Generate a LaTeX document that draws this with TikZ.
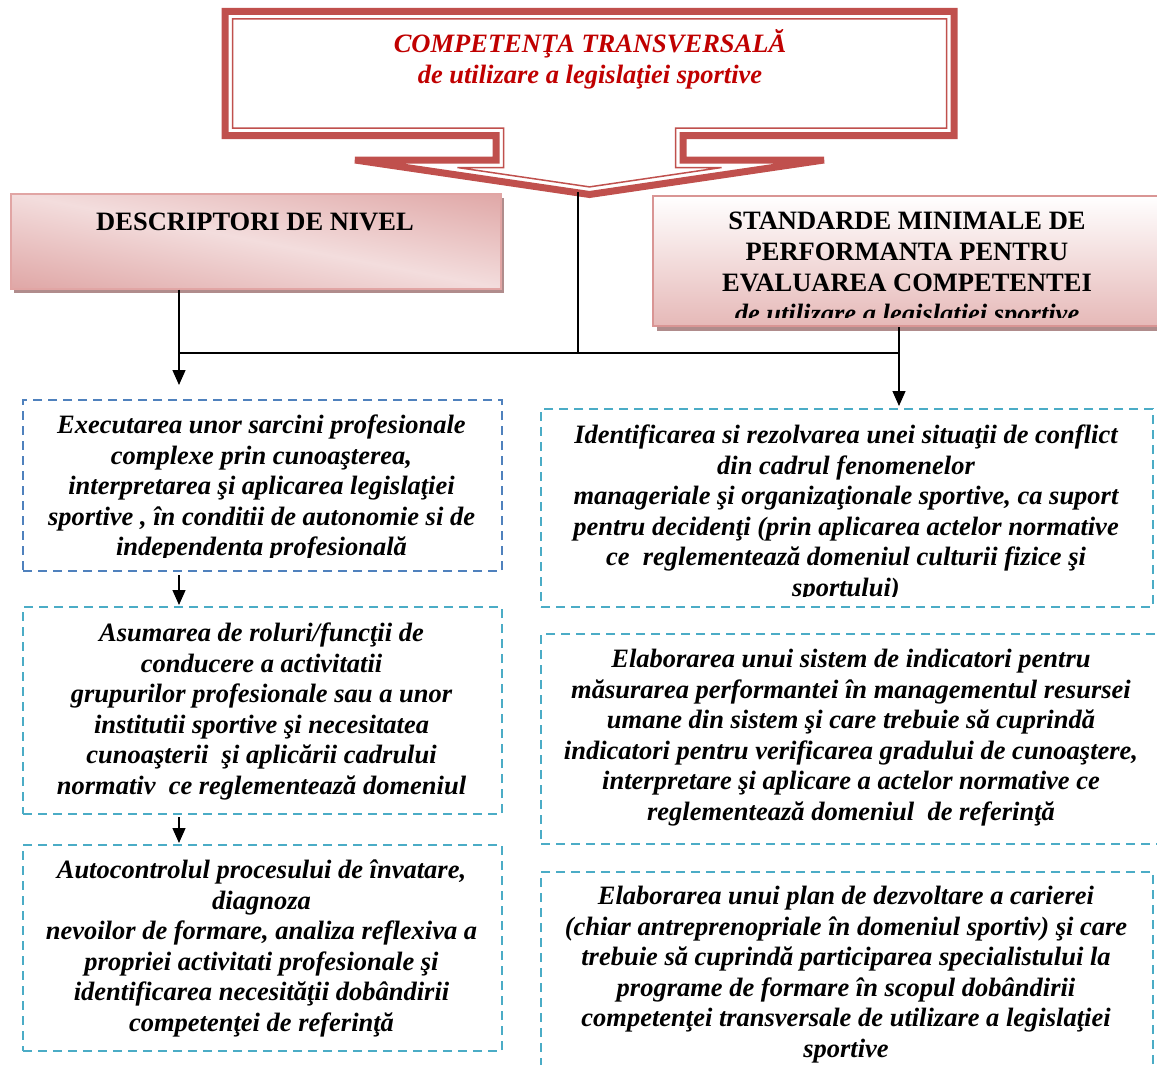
\documentclass[tikz,border=0pt]{standalone}
\usepackage{fontspec}
\setmainfont{Liberation Serif}
\usetikzlibrary{arrows.meta,shadows}
\definecolor{bannerred}{RGB}{192,80,77}
\definecolor{titlered}{RGB}{192,0,0}
\definecolor{blueline}{RGB}{79,129,189}
\definecolor{cyanline}{RGB}{75,172,198}
\definecolor{rosedark}{RGB}{217,149,148}
\definecolor{roselight}{RGB}{243,221,221}
\definecolor{rosemid}{RGB}{230,185,184}
\definecolor{roseborder}{RGB}{225,165,164}
\definecolor{shadowrose}{RGB}{176,140,140}
\pgfdeclareverticalshading{descshade}{100bp}{color(0bp)=(rosedark); color(38bp)=(rosedark);
  color(50bp)=(roselight); color(62bp)=(rosedark); color(100bp)=(rosedark)}
\newcommand{\boxtext}[2]{\parbox[t]{#1}{\centering\fontsize{26.5}{30.6}\selectfont\bfseries\itshape #2}}
\begin{document}
\begin{tikzpicture}[x=1pt,y=-1pt,
  dbox/.style={draw=#1, dash pattern=on 9pt off 6pt, line width=2pt, rectangle, inner sep=0pt, anchor=north west},
  conn/.style={draw=black, line width=1.3pt},
  arr/.style={conn, -{Triangle[width=13pt,length=15pt]}},
  txt/.style={anchor=base, inner sep=0pt},
  hdrbox/.style={rectangle, inner sep=0pt, anchor=north west, line width=1.5pt}]
\useasboundingbox (0,0) rectangle (1157,1065);
\clip (0,0) rectangle (1157,1065);

% ---------- banner (double-line arrow callout) ----------
\draw[bannerred, line width=7pt, fill=white, line join=miter]
  (225,11.5) -- (954,11.5) -- (954,135.5) -- (683,135.5) -- (683,160) -- (824,160)
  -- (589.5,194.5) -- (355,160) -- (496,160) -- (496,135.5) -- (225,135.5) -- cycle;
\draw[bannerred, line width=1.5pt, line join=miter]
  (232.5,19) -- (946.5,19) -- (946.5,128) -- (675.5,128) -- (675.5,167.5) -- (721.6,167.5)
  -- (589.5,186.9) -- (457.4,167.5) -- (503.5,167.5) -- (503.5,128) -- (232.5,128) -- cycle;
\node[txt, text=titlered] (title) at (590,53)
  {\boxtext{700pt}{COMPETENŢA TRANSVERSALĂ\\de utilizare a legislaţiei sportive}};
\coordinate (bannerfoot) at (578,192);

% ---------- header boxes ----------
\fill[shadowrose] (14,198) rectangle (504,293);
\begin{scope}
  \clip (10,193) rectangle (500,288);
  \shade[shading=descshade, shading angle=-11]
    (-5,-19.5) rectangle (515,500.5);
\end{scope}
\node[hdrbox, draw=roseborder, minimum width=490pt, minimum height=95pt] (desc) at (10,193) {};
\node[txt] (desct) at (255,230)
  {\fontsize{26.5}{30.6}\selectfont\bfseries DESCRIPTORI DE NIVEL};

\node[hdrbox, draw=rosedark, minimum width=510pt, minimum height=130pt,
      top color=white, bottom color=rosemid,
      general shadow={fill=shadowrose, shadow xshift=4pt, shadow yshift=-5pt}]
  (stand) at (652,195) {};
\begin{scope}
\clip (652,195) rectangle (1162,317);
\node[txt] (standt) at (907,229.5)
  {\parbox[t]{600pt}{\centering\fontsize{26.5}{31}\selectfont\bfseries
   STANDARDE MINIMALE DE\\PERFORMANTA PENTRU\\EVALUAREA COMPETENTEI\\
   \itshape de utilizare a legislatiei sportive}};
\end{scope}

% ---------- left column ----------
\node[dbox=blueline, minimum width=479pt, minimum height=171pt] (L1) at (22,399) {};
\begin{scope}
\clip (22,399) rectangle (501,557.5);
\node[txt] (L1t) at (261.5,433.5) {\boxtext{490pt}{Executarea unor sarcini profesionale\\
  complexe prin cunoaşterea,\\interpretarea şi aplicarea legislaţiei\\
  sportive , în conditii de autonomie si de\\independenta profesională}};
\end{scope}

\node[dbox=cyanline, minimum width=479pt, minimum height=207pt] (L2) at (22,606) {};
\node[txt] (L2t) at (261.5,641.5) {\boxtext{490pt}{Asumarea de roluri/funcţii de\\
  conducere a activitatii\\grupurilor profesionale sau a unor\\
  institutii sportive şi necesitatea\\cunoaşterii~ şi aplicării cadrului\\
  normativ~ ce reglementează domeniul}};

\node[dbox=cyanline, minimum width=479pt, minimum height=206pt] (L3) at (22,844) {};
\node[txt] (L3t) at (261.5,878.5) {\boxtext{490pt}{Autocontrolul procesului de învatare,\\
  diagnoza\\nevoilor de formare, analiza reflexiva a\\
  propriei activitati profesionale şi\\identificarea necesităţii dobândirii\\
  competenţei de referinţă}};

% ---------- right column ----------
\node[dbox=cyanline, minimum width=612pt, minimum height=198pt] (R1) at (540,408) {};
\begin{scope}
\clip (540,408) rectangle (1152,596.5);
\node[txt] (R1t) at (846,443.5) {\boxtext{640pt}{Identificarea si rezolvarea unei situaţii de conflict\\
  din cadrul fenomenelor\\manageriale şi organizaţionale sportive, ca suport\\
  pentru decidenţi (prin aplicarea actelor normative\\
  ce~ reglementează domeniul culturii fizice şi\\sportului)}};
\end{scope}

\node[dbox=cyanline, minimum width=622pt, minimum height=210pt] (R2) at (540,633) {};
\node[txt] (R2t) at (851,667.5) {\boxtext{640pt}{Elaborarea unui sistem de indicatori pentru\\
  măsurarea performantei în managementul resursei\\
  umane din sistem şi care trebuie să cuprindă\\
  indicatori pentru verificarea gradului de cunoaştere,\\
  interpretare şi aplicare a actelor normative ce\\
  reglementează domeniul~ de referinţă}};

\node[dbox=cyanline, minimum width=612pt, minimum height=210pt] (R3) at (540,871) {};
\node[txt] (R3t) at (846,904.5) {\boxtext{640pt}{Elaborarea unui plan de dezvoltare a carierei\\
  (chiar antreprenopriale în domeniul sportiv) şi care\\
  trebuie să cuprindă participarea specialistului la\\
  programe de formare în scopul dobândirii\\
  competenţei transversale de utilizare a legislaţiei\\sportive}};

% ---------- connectors ----------
\coordinate (jc) at (578,353);
\coordinate (jl) at (179,353);
\coordinate (jr) at (899,353);
\draw[conn] (bannerfoot) -- (jc);
\draw[conn] (desc.south -| jl) -- (jl) -- (jr) -- (stand.south -| jr);
\draw[arr, shorten >=14pt] (jl) -- (L1.north -| jl);
\draw[arr, shorten >=2pt] (jr) -- (R1.north -| jr);
\draw[arr, shorten <=3pt, shorten >=1pt] (L1.south -| jl) -- (L2.north -| jl);
\draw[arr, shorten <=2pt, shorten >=1pt] (L2.south -| jl) -- (L3.north -| jl);
\end{tikzpicture}
\end{document}
